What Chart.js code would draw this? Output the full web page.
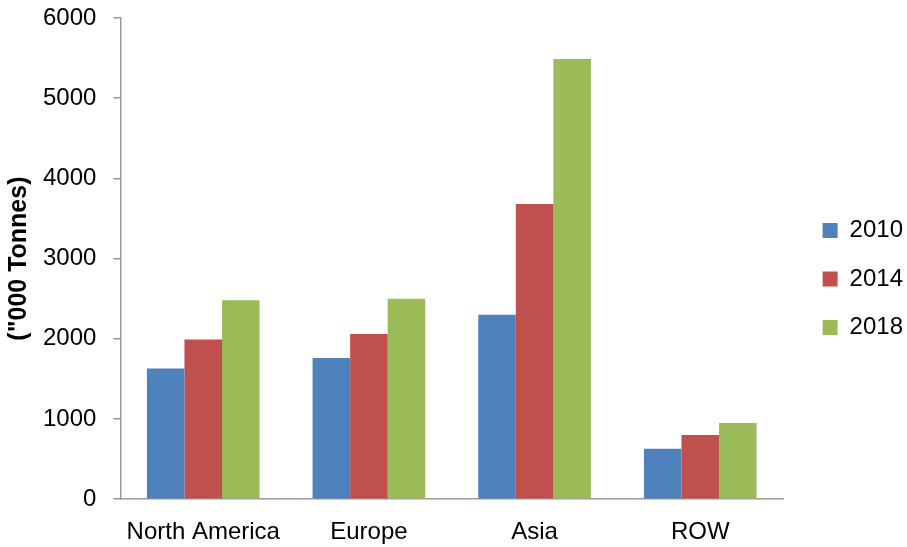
<!DOCTYPE html>
<html>
<head>
<meta charset="utf-8">
<script src="https://cdn.jsdelivr.net/npm/chart.js@4/dist/chart.umd.min.js"></script>
<style>
  html, body { margin: 0; padding: 0; background: #fff; }
  #wrap { width: 907px; height: 547px; }
</style>
</head>
<body>
<div id="wrap"><canvas id="chart"></canvas></div>
<script>
// Regional volumes, '000 tonnes
const regions = ['North America', 'Europe', 'Asia', 'ROW'];
const years = ['2010', '2014', '2018'];
const values2010 = [1630, 1760, 2300, 630];
const values2014 = [1990, 2060, 3680, 800];
const values2018 = [2480, 2500, 5490, 950];
const yTicks = [0, 1000, 2000, 3000, 4000, 5000, 6000];

const colors = ['#4F81BD', '#C0504D', '#9BBB59'];
const axisGray = '#9a9a9a';
const font = { family: 'Liberation Sans', size: 24 };

Chart.defaults.font.family = font.family;
Chart.defaults.color = '#000';

const series = [values2010, values2014, values2018];

new Chart(document.getElementById('chart'), {
  type: 'bar',
  data: {
    labels: regions,
    datasets: years.map((y, i) => ({
      label: y,
      data: series[i],
      backgroundColor: colors[i],
      borderWidth: 0,
      barPercentage: 1,
      categoryPercentage: 0.68,
      yAxisID: 'y',
    })),
  },
  options: {
    responsive: true,
    maintainAspectRatio: false,
    animation: false,
    layout: { padding: { left: 4, right: -6, top: 0, bottom: -11 } },
    plugins: {
      legend: {
        position: 'right',
        labels: { font, boxWidth: 15, boxHeight: 15, padding: 24.5, color: '#000' },
      },
      tooltip: { enabled: false },
    },
    scales: {
      x: {
        grid: { display: false },
        border: { color: axisGray, width: 1.5 },
        ticks: { font, padding: 11, color: '#000' },
      },
      y: {
        min: 0,
        max: 6000,
        afterBuildTicks: (axis) => { axis.ticks = yTicks.map((v) => ({ value: v })); },
        // keep the top of the plot at 18px, no extra padding from tick labels
        afterFit: (axis) => { axis.paddingTop = 18; axis.paddingBottom = 0; },
        grid: { drawOnChartArea: false, drawTicks: true, tickLength: 7, color: axisGray, lineWidth: 1.5 },
        border: { color: axisGray, width: 1.5 },
        ticks: { font, padding: 17, color: '#000', callback: (v) => String(v) },
        title: {
          display: true,
          text: '("000 Tonnes)',
          font: { family: font.family, size: 25, weight: 'bold' },
          padding: { top: 0, bottom: -8 },
          color: '#000',
        },
      },
      // empty spacer between plot and legend
      gap: {
        type: 'linear',
        position: 'right',
        grid: { display: false, drawTicks: false },
        border: { display: false },
        ticks: { display: false },
        afterFit: (axis) => { axis.width = 15; },
      },
    },
  },
});
</script>
</body>
</html>
